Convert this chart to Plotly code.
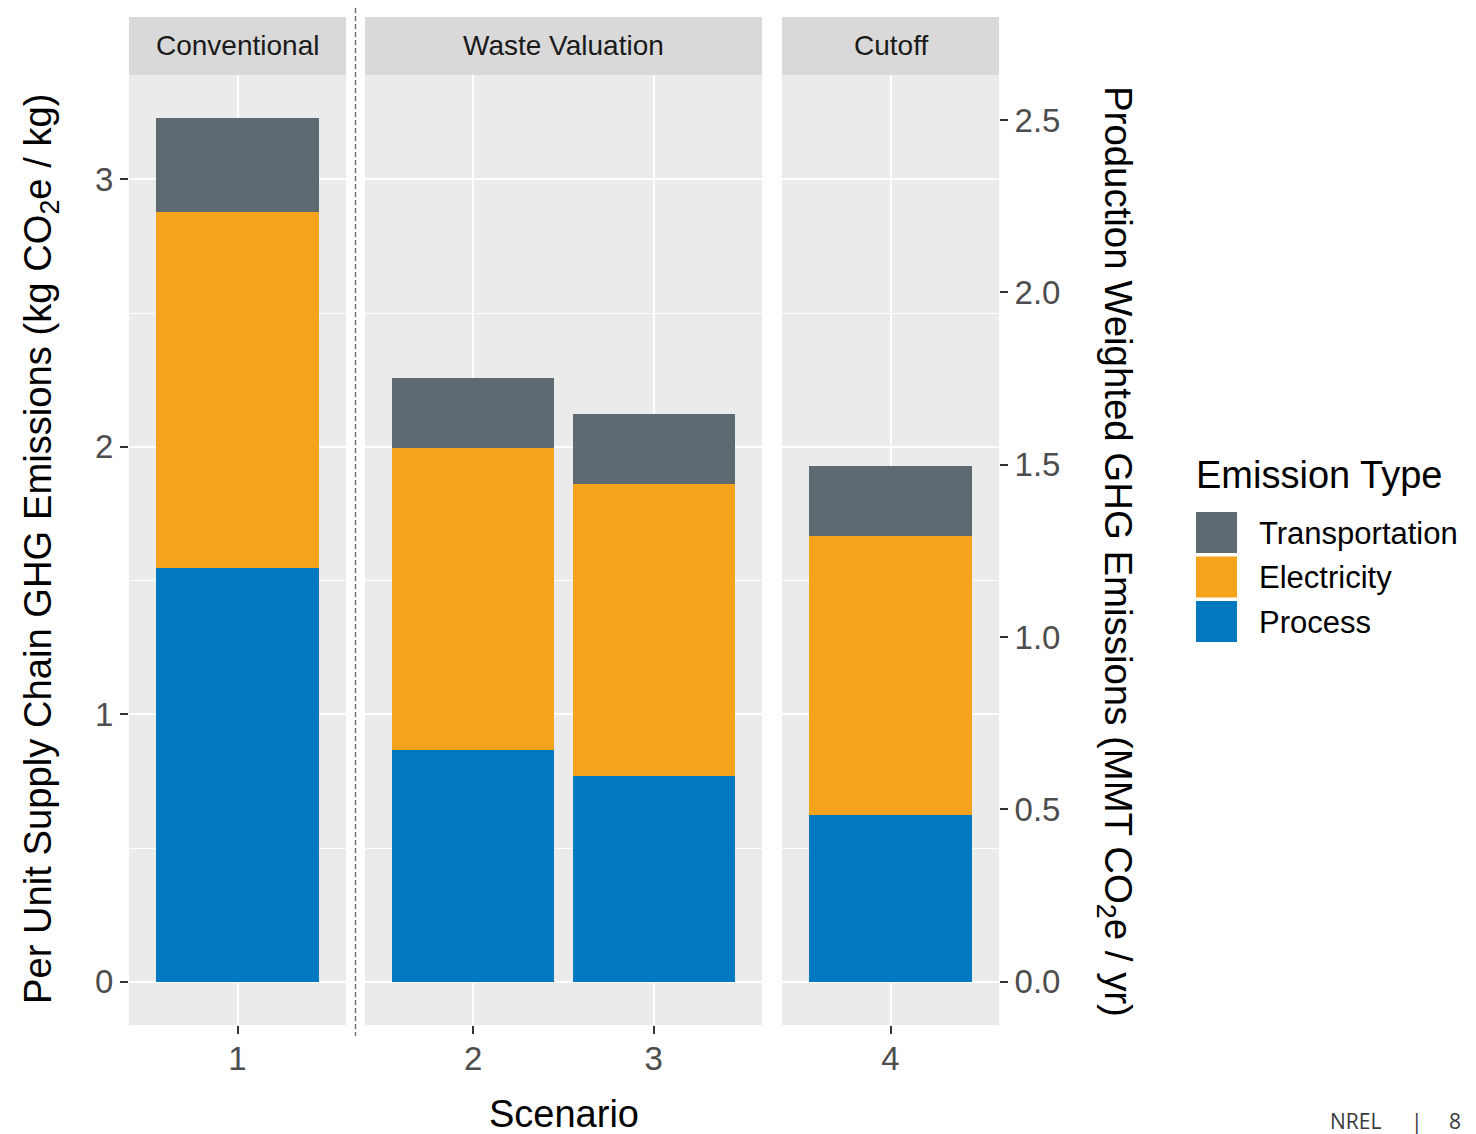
import plotly.graph_objects as go

# ---------------- data ----------------
scenarios = [1, 2, 3, 4]
groups = ["Conventional", "Waste Valuation", "Waste Valuation", "Cutoff"]
panel_names = ["Conventional", "Waste Valuation", "Cutoff"]
process = [1.547, 0.867, 0.770, 0.625]
electricity = [1.331, 1.129, 1.091, 1.042]
transportation = [0.351, 0.262, 0.262, 0.261]
series_names = ["Process", "Electricity", "Transportation"]
series_colors = ["#0079C1", "#F5A21D", "#5E6A71"]
left_ticks = [0, 1, 2, 3]
right_ticks = [0.0, 0.5, 1.0, 1.5, 2.0, 2.5]
secondary_scale = 0.776  # MMT/yr per kg/kg

# page has an 8px body margin; work in screen pixels and convert
OFF = 8
W, H = 1468, 1126
def px(x):
    return (x - OFF) / W
def py(y):
    return 1 - (y - OFF) / H

FONT = "Liberation Sans, Arial, sans-serif"
TICK_FONT = dict(family=FONT, size=33, color="#4D4D4D")

series_vals = [process, electricity, transportation]
total_max = max(p + e + t for p, e, t in zip(process, electricity, transportation))
y_lo = -0.05 * total_max
y_hi = total_max * 1.05

panel_px = [(129, 346), (365, 762), (782, 999)]
panel_top, panel_bot = 75, 1025
xaxes_ids = ["x", "x2", "x3"]
yaxes_ids = ["y", "y2", "y3"]

fig = go.Figure()

for si, (name, col) in enumerate(zip(series_names, series_colors)):
    vals = series_vals[si]
    for pi, pname in enumerate(panel_names):
        xs = [s for s, g in zip(scenarios, groups) if g == pname]
        ys = [v for v, g in zip(vals, groups) if g == pname]
        fig.add_trace(go.Bar(
            x=xs, y=ys, name=name, marker=dict(color=col, line=dict(width=0)),
            width=0.9, xaxis=xaxes_ids[pi], yaxis=yaxes_ids[pi],
            showlegend=False, legendgroup=name,
        ))

# invisible trace to materialize the secondary axis
fig.add_trace(go.Scatter(x=[scenarios[-1]], y=[0], xaxis="x3", yaxis="y4",
                         mode="markers", marker=dict(opacity=0),
                         hoverinfo="skip", showlegend=False))

layout = dict(
    width=W, height=H,
    margin=dict(l=0, r=0, t=0, b=0),
    paper_bgcolor="white", plot_bgcolor="#EBEBEB",
    barmode="stack", bargap=0,
    font=dict(family=FONT, color="#1A1A1A"),
    showlegend=False,
)

for pi, pname in enumerate(panel_names):
    xs = [s for s, g in zip(scenarios, groups) if g == pname]
    key_x = "xaxis" if pi == 0 else f"xaxis{pi+1}"
    key_y = "yaxis" if pi == 0 else f"yaxis{pi+1}"
    layout[key_x] = dict(
        domain=[px(panel_px[pi][0]), px(panel_px[pi][1])],
        range=[min(xs) - 0.6, max(xs) + 0.6],
        tickvals=xs, ticktext=[str(s) for s in xs],
        anchor=yaxes_ids[pi],
        showgrid=True, gridcolor="white", gridwidth=2,
        zeroline=False, showline=False,
        ticks="outside", ticklen=8, tickwidth=2, tickcolor="#333333",
        ticklabelstandoff=-4,
        tickfont=TICK_FONT, automargin=False, fixedrange=True,
    )
    layout[key_y] = dict(
        domain=[py(panel_bot), py(panel_top)],
        range=[y_lo, y_hi],
        anchor=xaxes_ids[pi],
        tickvals=left_ticks,
        showticklabels=(pi == 0),
        ticks="outside" if pi == 0 else "",
        ticklen=8, tickwidth=2, tickcolor="#333333",
        tickfont=TICK_FONT,
        showgrid=True, gridcolor="white", gridwidth=2,
        minor=dict(dtick=0.5, tick0=0, showgrid=True, gridcolor="white", gridwidth=1, ticks=""),
        zeroline=False, showline=False, automargin=False, fixedrange=True,
    )
    if pi > 0:
        layout[key_y]["matches"] = "y"

layout["yaxis4"] = dict(
    overlaying="y3", side="right", anchor="x3",
    range=[y_lo * secondary_scale, y_hi * secondary_scale],
    tickvals=right_ticks, ticktext=[f"{v:.1f}" for v in right_ticks],
    ticks="outside", ticklen=8, tickwidth=2, tickcolor="#333333",
    tickfont=TICK_FONT, showgrid=False, zeroline=False, showline=False,
    automargin=False, fixedrange=True,
)

shapes = []
annotations = []

# facet strips
for pi, pname in enumerate(panel_names):
    x0, x1 = panel_px[pi]
    shapes.append(dict(type="rect", xref="paper", yref="paper",
                       x0=px(x0), x1=px(x1), y0=py(75), y1=py(17),
                       fillcolor="#D9D9D9", line=dict(width=0), layer="below"))
    annotations.append(dict(xref="paper", yref="paper", x=px((x0 + x1) / 2), y=py(46),
                            text=pname, showarrow=False, xanchor="center", yanchor="middle",
                            font=dict(family=FONT, size=28, color="#1A1A1A")))

# dashed separator
shapes.append(dict(type="line", xref="paper", yref="paper",
                   x0=px(355.5), x1=px(355.5), y0=py(8), y1=py(1036),
                   line=dict(color="#6E7378", width=1.5, dash="5px,3px")))

# axis titles
annotations.append(dict(xref="paper", yref="paper", x=px(564), y=py(1114),
                        text="Scenario", showarrow=False, xanchor="center", yanchor="middle",
                        font=dict(family=FONT, size=38, color="#000000")))
annotations.append(dict(xref="paper", yref="paper", x=px(41), y=py(549),
                        text="Per Unit Supply Chain GHG Emissions (kg CO<sub>2</sub>e / kg)",
                        textangle=-90, showarrow=False, xanchor="center", yanchor="middle",
                        font=dict(family=FONT, size=38.2, color="#000000")))
annotations.append(dict(xref="paper", yref="paper", x=px(1116), y=py(551),
                        text="Production Weighted GHG Emissions (MMT CO<sub>2</sub>e / yr)",
                        textangle=90, showarrow=False, xanchor="center", yanchor="middle",
                        font=dict(family=FONT, size=38.4, color="#000000")))

# legend (drawn manually for large keys)
annotations.append(dict(xref="paper", yref="paper", x=px(1194), y=py(475),
                        text="Emission Type", showarrow=False, xanchor="left", yanchor="middle",
                        font=dict(family=FONT, size=38, color="#000000")))
legend_order = list(reversed(range(len(series_names))))
for k, si in enumerate(legend_order):
    top = 512 + 44.5 * k
    shapes.append(dict(type="rect", xref="paper", yref="paper",
                       x0=px(1196), x1=px(1237), y0=py(top + 41), y1=py(top),
                       fillcolor=series_colors[si], line=dict(width=0)))
    annotations.append(dict(xref="paper", yref="paper", x=px(1257), y=py(top + 21),
                            text=series_names[si], showarrow=False, xanchor="left", yanchor="middle",
                            font=dict(family=FONT, size=31, color="#000000")))

# footer
FOOT = dict(family="Open Sans, sans-serif", size=21, color="#3A3A3A")
for txt, xc in [("NREL", 1355), ("|", 1417), ("8", 1455)]:
    annotations.append(dict(xref="paper", yref="paper", x=px(xc), y=py(1121),
                            text=txt, showarrow=False, xanchor="center", yanchor="middle",
                            font=FOOT))

layout["shapes"] = shapes
layout["annotations"] = annotations
fig.update_layout(**layout)

fig.write_html("out.html")
